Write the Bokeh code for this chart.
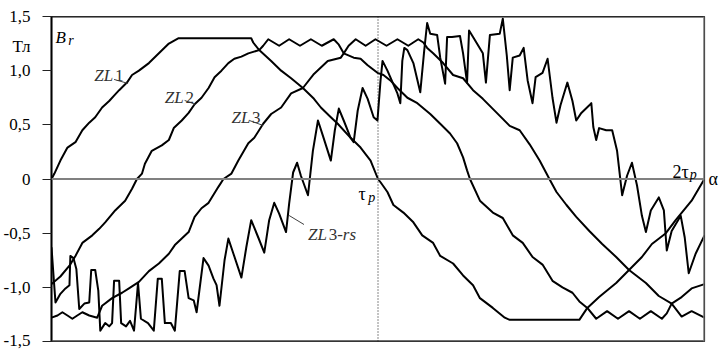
from bokeh.plotting import figure
from bokeh.models import (Span, Label, FixedTicker, CustomJSTickFormatter, Range1d,
                          ColumnDataSource, LinearAxis)
from bokeh.embed import file_html
from bokeh.resources import INLINE

# ---------------- data (alpha in electrical degrees, B in tesla) ----------------
y_ticks = [-1.5, -1.0, -0.5, 0.0, 0.5, 1.0, 1.5]
unit_tick = 1.223          # position of the unit label "Тл" on the B axis
zero_tick = 0.0            # position of the "α" label on the right

zl1_a = [0, 1.6, 4.9, 8.8, 13.2, 17.0, 20.8, 24.1, 27.9, 31.8, 34.5, 37.3, 41.6, 44.4, 48.2, 53.7, 59.2, 64.7,
         70.1, 110.1, 111.2, 114.5, 121.1, 126.6, 132.1, 138.6, 144.7, 148.5, 154.0, 157.8, 164.9, 170.4, 175.9,
         180.0, 181.4, 185.2, 188.5, 194.0, 199.5, 204.4, 210.4, 214.3, 221.4, 226.9, 232.4, 236.2, 243.3, 249.9,
         252.6, 291.0, 295.4, 301.9, 311.3, 318.4, 325.5, 331.0, 338.7, 344.1, 352.9, 358.9, 360.0]
zl1_b = [0, 0.05, 0.17, 0.29, 0.34, 0.45, 0.52, 0.57, 0.66, 0.72, 0.77, 0.82, 0.89, 0.96, 1.00, 1.07, 1.16, 1.25,
         1.30, 1.30, 1.26, 1.19, 1.09, 1.00, 0.93, 0.84, 0.74, 0.66, 0.57, 0.51, 0.38, 0.29, 0.17,
         0.0, -0.03, -0.12, -0.24, -0.31, -0.40, -0.52, -0.59, -0.71, -0.78, -0.89, -0.98, -1.10, -1.19, -1.28,
         -1.30, -1.30, -1.19, -1.09, -0.96, -0.84, -0.72, -0.60, -0.50, -0.38, -0.20, -0.03, 0.0]

zl2_a = [0, 4.9, 9.9, 13.2, 17.0, 22.5, 26.3, 29.6, 35.1, 40.6, 44.4, 47.1, 49.9, 51.5, 55.3, 60.8, 64.7, 67.4,
         71.8, 75.6, 78.9, 82.7, 86.6, 89.9, 93.7, 97.5, 100.8, 104.7, 108.5, 114.5, 116.7, 119.5, 125.5, 131.0,
         137.0, 143.0, 149.0, 155.6, 158.4, 161.1, 166.6, 170.4, 174.3, 179.7, 183.0, 186.8, 190.7, 196.2, 201.7,
         208.8, 214.3, 219.7, 223.6, 226.9, 229.1, 230.7, 236.2, 243.3, 248.8, 254.3, 259.8, 265.2, 270.7, 276.2,
         281.7, 287.2, 291.0, 295.4, 300.3, 306.3, 312.3, 318.4, 324.4, 330.4, 336.5, 339.2, 341.9, 347.4, 352.9, 360.0]
zl2_b = [-0.97, -0.90, -0.80, -0.71, -0.59, -0.52, -0.46, -0.40, -0.29, -0.20, -0.09, 0.0, 0.05, 0.14, 0.26, 0.31,
         0.36, 0.47, 0.54, 0.61, 0.69, 0.75, 0.84, 0.94, 1.00, 1.07, 1.11, 1.13, 1.16, 1.19, 1.23, 1.29, 1.23, 1.29,
         1.23, 1.29, 1.23, 1.29, 1.24, 1.16, 1.12, 1.11, 1.05, 0.98, 0.96, 0.91, 0.84, 0.75, 0.70, 0.60, 0.51, 0.42,
         0.33, 0.20, 0.08, 0.0, -0.20, -0.31, -0.36, -0.52, -0.59, -0.72, -0.79, -0.94, -1.00, -1.05, -1.13, -1.19,
         -1.29, -1.22, -1.29, -1.22, -1.29, -1.22, -1.29, -1.24, -1.15, -1.09, -1.01, -0.97]

zl3_a = [0, 3.3, 6.0, 8.8, 11.5, 14.2, 17.0, 20.8, 25.2, 27.9, 33.4, 38.9, 42.7, 48.2, 53.7, 59.2, 64.7, 68.0,
         71.8, 75.6, 78.9, 82.7, 86.6, 92.1, 94.8, 99.2, 103.0, 108.5, 111.8, 116.7, 121.1, 126.6, 132.1, 138.6,
         144.7, 152.3, 159.5, 161.1, 163.8, 167.7, 173.2, 178.6, 184.7, 190.7, 196.7, 202.2, 205.0, 207.1, 210.4,
         215.9, 221.4, 226.9, 232.4, 237.8, 245.5, 252.6, 258.1, 263.6, 269.1, 272.9, 274.5, 278.4, 283.9, 289.3,
         296.5, 303.6, 311.3, 318.4, 327.7, 334.8, 341.9, 347.4, 352.9, 360.0]
zl3_b = [-1.28, -1.26, -1.23, -1.26, -1.29, -1.26, -1.23, -1.26, -1.28, -1.17, -1.10, -1.05, -1.01, -0.95, -0.85,
         -0.78, -0.69, -0.61, -0.55, -0.49, -0.35, -0.27, -0.22, -0.07, 0.0, 0.05, 0.17, 0.33, 0.38, 0.51, 0.60,
         0.66, 0.79, 0.84, 0.97, 1.09, 1.12, 1.16, 1.23, 1.29, 1.23, 1.29, 1.23, 1.29, 1.23, 1.29, 1.26, 1.21, 1.16,
         1.07, 0.96, 0.93, 0.82, 0.74, 0.61, 0.49, 0.45, 0.32, 0.17, 0.05, 0.0, -0.12, -0.24, -0.35, -0.48, -0.60,
         -0.72, -0.84, -0.96, -1.08, -1.15, -1.27, -1.22, -1.28]

zl3rs_a = [0, 1.1, 2.2, 4.9, 7.7, 9.9, 10.4, 12.1, 13.7, 15.3,
           18.1, 20.8, 21.9, 24.1, 25.8, 26.9, 29.6, 31.8, 33.4, 34.5,
           37.3, 38.4, 41.1, 43.3, 45.5, 47.7, 49.3, 53.2, 56.4, 58.6,
           60.8, 62.5, 65.8, 68.0, 70.7, 73.4, 75.6, 78.4, 80.0, 83.8,
           86.6, 89.3, 91.0, 92.6, 95.4, 97.5, 100.3, 104.7, 107.4, 110.1,
           114.0, 117.3, 120.0, 122.8, 125.5, 129.3, 131.0, 133.2, 135.4, 137.5,
           141.4, 144.1, 146.9, 149.6, 154.0, 156.2, 158.4, 161.1, 164.9, 166.6,
           168.8, 171.5, 174.3, 177.6, 179.7, 181.4, 182.5, 185.2, 190.7, 192.3,
           193.4, 194.5, 196.2, 199.5, 203.3, 205.5, 207.1, 208.8, 212.6, 214.3,
           217.0, 218.1, 220.8, 225.2, 226.9, 229.1, 230.2, 232.4, 237.8, 239.5,
           241.7, 247.1, 248.8, 251.0, 252.6, 254.3, 258.1, 260.3, 262.5, 265.2,
           266.9, 270.7, 273.5, 276.2, 278.4, 280.6, 284.4, 287.2, 289.3, 292.1,
           296.5, 297.6, 298.7, 300.3, 301.9, 305.8, 309.1, 311.8, 314.6, 317.3,
           320.0, 322.8, 325.5, 327.7, 330.4, 334.8, 337.6, 339.2, 341.9, 346.9,
           349.1, 351.3, 355.1, 360.0]
zl3rs_b = [-0.63, -0.89, -1.14, -1.06, -1.01, -0.98, -0.71, -0.73, -0.83, -1.20,
           -1.15, -1.14, -0.84, -0.84, -1.03, -1.40, -1.33, -1.36, -1.33, -0.94,
           -0.94, -1.33, -1.36, -1.31, -1.40, -0.96, -1.29, -1.33, -1.40, -0.92,
           -0.92, -1.33, -1.33, -1.40, -0.85, -0.85, -1.10, -1.12, -1.23, -0.73,
           -0.80, -0.92, -0.98, -1.17, -0.75, -0.55, -0.69, -0.91, -0.63, -0.38,
           -0.54, -0.68, -0.38, -0.22, -0.32, -0.49, -0.23, 0.06, 0.15, 0.03,
           -0.15, 0.26, 0.54, 0.40, 0.17, 0.45, 0.65, 0.54, 0.38, 0.34,
           0.63, 0.84, 0.74, 0.57, 0.54, 0.91, 1.09, 1.00, 0.79, 0.70,
           1.09, 1.21, 1.19, 1.07, 0.80, 1.19, 1.44, 1.34, 1.33, 1.12,
           0.88, 1.31, 1.31, 1.32, 1.16, 0.89, 1.37, 1.31, 1.16, 0.89,
           1.33, 1.34, 1.48, 1.14, 0.82, 1.12, 1.14, 1.21, 0.91, 0.70,
           0.94, 0.98, 1.11, 0.75, 0.52, 0.68, 0.89, 0.72, 0.54, 0.61,
           0.68, 0.70, 0.48, 0.36, 0.47, 0.45, 0.45, 0.26, -0.15, 0.03,
           0.15, -0.06, -0.34, -0.49, -0.29, -0.17, -0.29, -0.66, -0.48, -0.34,
           -0.54, -0.87, -0.69, -0.52]

# ---------------- figure ----------------
SERIF = "'Liberation Serif', 'Times New Roman', serif"

p = figure(width=720, height=349, output_backend="svg", toolbar_location=None,
           x_range=Range1d(0, 360), y_range=Range1d(-1.5, 1.5),
           min_border_left=49, min_border_right=14, min_border_top=16, min_border_bottom=8)
p.xaxis.visible = False
p.xgrid.visible = False
p.ygrid.visible = False
p.outline_line_color = "#303030"
p.outline_line_width = 1.2
p.background_fill_color = "white"
p.border_fill_color = "white"

ya = p.yaxis[0]
ya.ticker = FixedTicker(ticks=y_ticks + [unit_tick], minor_ticks=y_ticks)
ya.formatter = CustomJSTickFormatter(code="""
if (Math.abs(tick - %f) < 1e-6) { return 'Тл'; }
if (tick == 0) { return '0'; }
return tick.toFixed(1).replace('.', ',');
""" % unit_tick)
ya.axis_line_width = 2
ya.axis_line_color = "black"
ya.major_tick_out = 0
ya.major_tick_in = 0
ya.minor_tick_out = 9
ya.minor_tick_in = 0
ya.minor_tick_line_color = "#222222"
ya.minor_tick_line_width = 1
ya.major_label_text_font = SERIF
ya.major_label_text_font_size = "17px"
ya.major_label_text_color = "black"
ya.major_label_standoff = 12

ra = LinearAxis(ticker=FixedTicker(ticks=[zero_tick]),
                formatter=CustomJSTickFormatter(code="return 'α';"),
                axis_line_color=None, major_tick_out=0, major_tick_in=0,
                minor_tick_out=0, minor_tick_in=0, major_label_standoff=4,
                major_label_text_font=SERIF, major_label_text_font_size="18px",
                major_label_text_color="black")
p.add_layout(ra, "right")

# frame / reference lines (top and bottom drawn just inside the frame)
p.add_layout(Span(location=1.4955, dimension="width", line_color="#111111", line_width=1.2))
p.add_layout(Span(location=-1.4945, dimension="width", line_color="#404040", line_width=1.5))
p.add_layout(Span(location=359.7, dimension="height", line_color="#808080", line_width=1.5))
p.add_layout(Span(location=0, dimension="width", line_color="#808080", line_width=2))
p.add_layout(Span(location=180, dimension="height", line_color="#111111", line_width=1, line_dash="1 2"))

# curves
for a, b in [(zl1_a, zl1_b), (zl2_a, zl2_b), (zl3_a, zl3_b), (zl3rs_a, zl3rs_b)]:
    src = ColumnDataSource(dict(a=a, b=b))
    p.line("a", "b", source=src, line_color="black", line_width=2, line_join="round")

# leader lines of the curve labels
lead_x0 = [34.5, 73.4, 109.1, 131.0]
lead_y0 = [0.919, 0.725, 0.540, -0.337]
lead_x1 = [42.2, 79.5, 116.7, 139.2]
lead_y1 = [0.882, 0.688, 0.494, -0.420]
p.segment(lead_x0, lead_y0, lead_x1, lead_y1, line_color="#404040", line_width=1)

def lab(x, y, text, size="17px", style="normal", color="black"):
    p.add_layout(Label(x=x, y=y, text=text, text_font=SERIF, text_font_size=size,
                       text_font_style=style, text_color=color, text_baseline="alphabetic",
                       text_align="left"))

LC = "#333333"
lab(23.6, 0.956, "ZL", style="italic", color=LC)
lab(35.0, 0.956, "1", color=LC)
lab(62.5, 0.753, "ZL", style="italic", color=LC)
lab(73.9, 0.753, "2", color=LC)
lab(99.2, 0.568, "ZL", style="italic", color=LC)
lab(110.6, 0.568, "3", color=LC)
lab(141.4, -0.512, "ZL", style="italic", color=LC)
lab(152.8, -0.512, "3", color=LC)
lab(157.5, -0.512, "-rs", style="italic", color=LC)

lab(2.2, 1.307, "B", style="italic")
lab(9.3, 1.279, "r", size="14px", style="italic")
lab(169.3, -0.143, "τ", size="18px")
lab(174.6, -0.171, "p", size="14px", style="italic")
lab(342.4, 0.069, "2τ", size="18px")
lab(351.8, 0.040, "p", size="14px", style="italic")

open("out.html", "w", encoding="utf-8").write(file_html(p, INLINE))
